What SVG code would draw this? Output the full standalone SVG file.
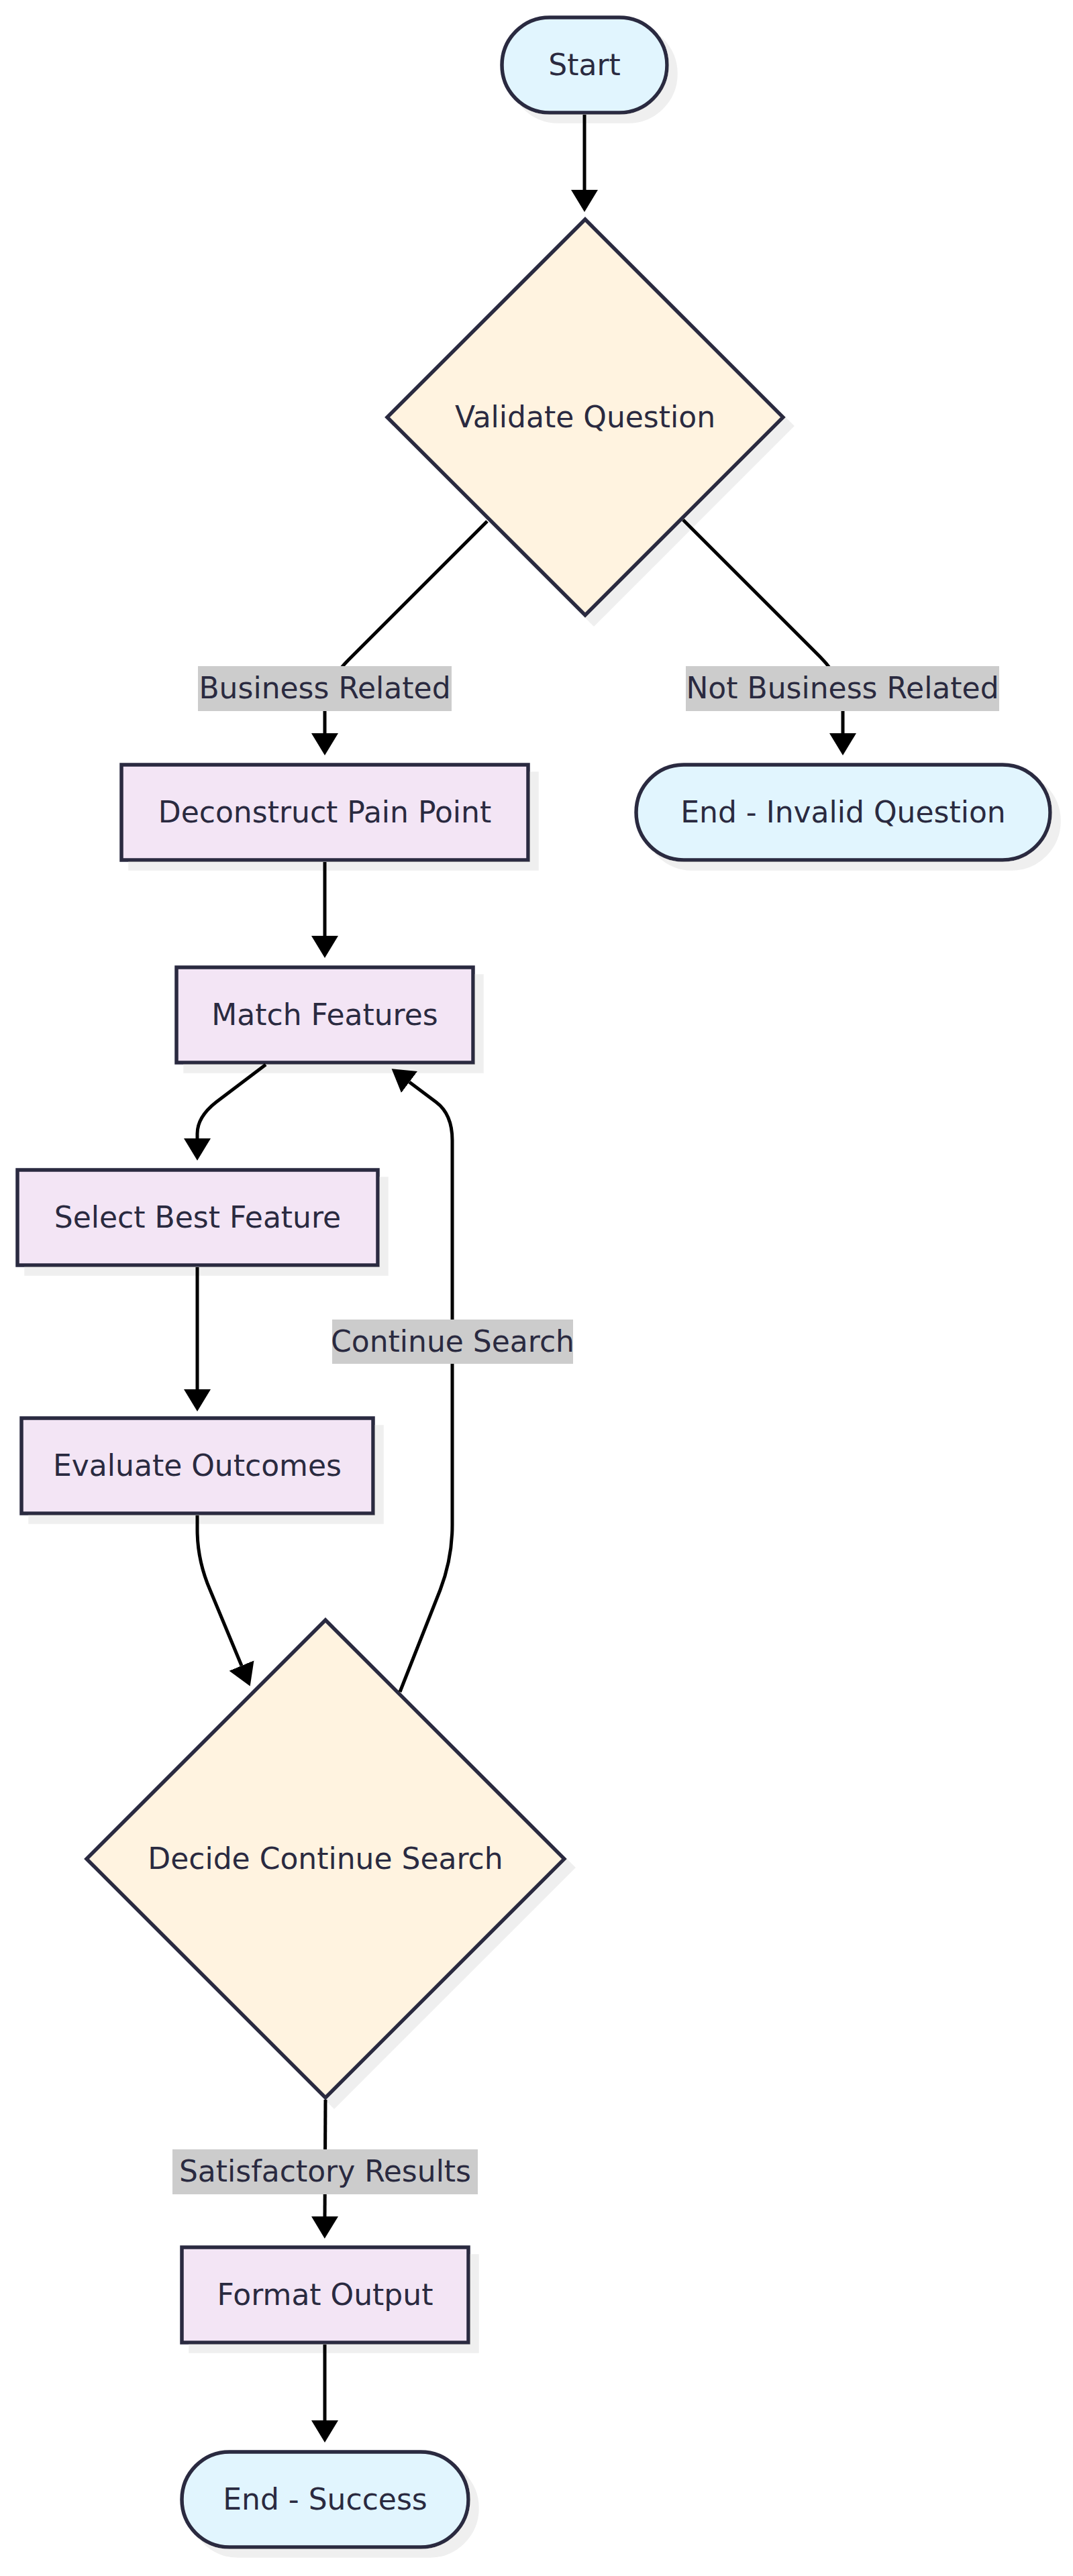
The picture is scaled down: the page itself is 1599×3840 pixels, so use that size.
<svg xmlns="http://www.w3.org/2000/svg" width="1599" height="3840" viewBox="0 0 1599 3840">
<defs>
<style>
.node{stroke:#2a2a40;stroke-width:5.5;filter:url(#shadow)}
.term{fill:#e1f5fe}
.proc{fill:#f3e5f5}
.dec{fill:#fff3e0}
.edge{fill:none;stroke:#000;stroke-width:5;marker-end:url(#arrow)}
.lbl{fill:#cccccc}
text{font-family:"DejaVu Sans","Liberation Sans",sans-serif;font-size:44px;fill:#2a2a40;text-anchor:middle}
</style>
<filter id="shadow" x="-10%" y="-10%" width="130%" height="130%">
<feFlood flood-color="#efefef" result="c"/>
<feComposite in="c" in2="SourceAlpha" operator="in" result="s"/>
<feOffset in="s" dx="13" dy="13" result="o"/>
<feMerge><feMergeNode in="o"/><feMergeNode in="SourceGraphic"/></feMerge>
</filter>
<marker id="arrow" viewBox="0 0 33 40" refX="0" refY="20" markerWidth="33" markerHeight="40" markerUnits="userSpaceOnUse" orient="auto">
<path d="M0,0 L33,20 L0,40 z" fill="#000"/>
</marker>
</defs>
<rect width="1599" height="3840" fill="#fff"/>
<g id="start"><rect class="node term" x="748" y="26" width="246" height="142" rx="71"/><text x="871" y="112">Start</text></g>
<g id="validate"><polygon class="node dec" points="872,327 1167,622 872,917 577,622"/><text x="872" y="637">Validate Question</text></g>
<g id="deconstruct"><rect class="node proc" x="181" y="1140" width="606" height="142"/><text x="484" y="1226">Deconstruct Pain Point</text></g>
<g id="end-invalid"><rect class="node term" x="948" y="1140" width="617" height="142" rx="71"/><text x="1256.5" y="1226">End - Invalid Question</text></g>
<g id="match"><rect class="node proc" x="263" y="1442" width="442" height="142"/><text x="484" y="1528">Match Features</text></g>
<g id="select"><rect class="node proc" x="26" y="1744" width="537" height="142"/><text x="294.5" y="1830">Select Best Feature</text></g>
<g id="evaluate"><rect class="node proc" x="32" y="2114" width="524" height="142"/><text x="294" y="2200">Evaluate Outcomes</text></g>
<g id="decide"><polygon class="node dec" points="485,2415 841,2771 485,3127 129,2771"/><text x="485" y="2786">Decide Continue Search</text></g>
<g id="format"><rect class="node proc" x="271" y="3350" width="427" height="142"/><text x="484.5" y="3436">Format Output</text></g>
<g id="end-success"><rect class="node term" x="271" y="3655" width="427" height="142" rx="71"/><text x="484.5" y="3741">End - Success</text></g>
<g id="connectors">
<path class="edge" d="M871 171 L871 283"/>
<path class="edge" d="M726 777 L520 983 Q484 1019 484 1055 L484 1093"/>
<path class="edge" d="M1018 775 L1222 979 Q1256 1013 1256 1049 L1256 1093"/>
<path class="edge" d="M484 1285 L484 1395"/>
<path class="edge" d="M396 1587 L322 1643 Q294 1665 294 1690 L294 1697"/>
<path class="edge" d="M294 1889 L294 2071"/>
<path class="edge" d="M294 2259 L294 2280 Q294 2326 313 2370 L360 2483"/>
<path class="edge" d="M596 2522 L656 2370 Q674 2323 674 2273 L674 1700 Q674 1661 650 1643 L610 1613"/>
<path class="edge" d="M485 3130 L484 3304"/>
<path class="edge" d="M484 3495 L484 3608"/>
</g>
<g id="edge-labels">
<g><rect class="lbl" x="295" y="993" width="378" height="67"/><text x="484" y="1041">Business Related</text></g>
<g><rect class="lbl" x="1022" y="993" width="467" height="67"/><text x="1255.5" y="1041">Not Business Related</text></g>
<g><rect class="lbl" x="495" y="1967" width="359" height="66"/><text x="674.5" y="2015">Continue Search</text></g>
<g><rect class="lbl" x="257" y="3204" width="455" height="67"/><text x="484.5" y="3252">Satisfactory Results</text></g>
</g>
</svg>
